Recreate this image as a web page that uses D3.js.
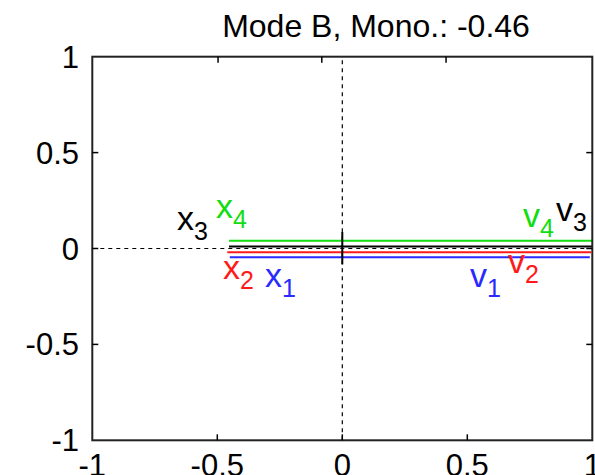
<!DOCTYPE html>
<html>
<head>
<meta charset="utf-8">
<script src="https://cdn.jsdelivr.net/npm/d3@7"></script>
<style>
  html, body { margin: 0; padding: 0; background: #fff; }
  svg { display: block; font-family: "Liberation Sans", Arial, sans-serif; }
</style>
</head>
<body>
<svg id="chart" width="595" height="475"></svg>
<script>
// ---- data ----
const title = "Mode B, Mono.: -0.46";
const xTicks = [-1, -0.5, 0, 0.5, 1];
const yTicks = [-1, -0.5, 0, 0.5, 1];
const topTicks = [-0.497, -0.082, 0.415];
const seriesIds = ["1", "2", "3", "4"];
const lineY = [-0.046, -0.020, 0.011, 0.041];
const lineXStart = [-0.450, -0.460, -0.453, -0.453];
const lineXEnd = [0.990, 0.995, 1.0, 1.0];
const xLabelX = [-0.309, -0.477, -0.661, -0.505];
const xLabelY = [-0.199, -0.159, 0.094, 0.157];
const vLabelX = [0.511, 0.663, 0.855, 0.723];
const vLabelY = [-0.199, -0.128, 0.145, 0.114];
const crossY = [-0.083, 0.086];

// ---- styles ----
const colors = ["#2a2aff", "#ff1a1a", "#000000", "#11dd11"];
const W = 595, H = 475;
const m = { left: 92.3, right: 592.3, top: 56.7, bottom: 440.3 };

const svg = d3.select("#chart");
const x = d3.scaleLinear().domain([-1, 1]).range([m.left, m.right]);
const y = d3.scaleLinear().domain([-1, 1]).range([m.bottom, m.top]);

// zero dashed lines
svg.append("line")
  .attr("x1", x(-1)).attr("x2", x(1)).attr("y1", y(0)).attr("y2", y(0))
  .attr("stroke", "#000").attr("stroke-width", 1.2).attr("stroke-dasharray", "4,4");
svg.append("line")
  .attr("x1", x(0)).attr("x2", x(0)).attr("y1", y(-1)).attr("y2", y(1))
  .attr("stroke", "#000").attr("stroke-width", 1.2).attr("stroke-dasharray", "4,4");

// series lines
const idx = d3.range(seriesIds.length);
svg.append("g").selectAll("line").data(idx).join("line")
  .attr("x1", i => x(lineXStart[i])).attr("x2", i => x(lineXEnd[i]))
  .attr("y1", i => y(lineY[i])).attr("y2", i => y(lineY[i]))
  .attr("stroke", i => colors[i]).attr("stroke-width", 2);

// cross at origin
svg.append("line")
  .attr("x1", x(0)).attr("x2", x(0)).attr("y1", y(crossY[0])).attr("y2", y(crossY[1]))
  .attr("stroke", "#000").attr("stroke-width", 2);

// frame
svg.append("rect")
  .attr("x", m.left).attr("y", m.top)
  .attr("width", m.right - m.left).attr("height", m.bottom - m.top)
  .attr("fill", "none").attr("stroke", "#222").attr("stroke-width", 2);

// ticks (inward)
const tl = 6;
const inner = xTicks.filter(t => t > -1 && t < 1);
svg.append("g").selectAll("line").data(inner).join("line")
  .attr("x1", d => x(d)).attr("x2", d => x(d))
  .attr("y1", m.bottom).attr("y2", m.bottom - tl)
  .attr("stroke", "#000").attr("stroke-width", 1.5);
svg.append("g").selectAll("line").data(topTicks).join("line")
  .attr("x1", d => x(d)).attr("x2", d => x(d))
  .attr("y1", m.top).attr("y2", m.top + tl)
  .attr("stroke", "#000").attr("stroke-width", 1.5);
const innerY = yTicks.filter(t => t > -1 && t < 1);
svg.append("g").selectAll("line").data(innerY).join("line")
  .attr("x1", m.left).attr("x2", m.left + tl)
  .attr("y1", d => y(d)).attr("y2", d => y(d))
  .attr("stroke", "#000").attr("stroke-width", 1.5);
svg.append("g").selectAll("line").data(innerY).join("line")
  .attr("x1", m.right).attr("x2", m.right - tl)
  .attr("y1", d => y(d)).attr("y2", d => y(d))
  .attr("stroke", "#000").attr("stroke-width", 1.5);

// tick labels
const fmt = d => d3.format("")(d).replace("−", "-");
svg.append("g").selectAll("text").data(xTicks).join("text")
  .attr("x", d => x(d)).attr("y", 476)
  .attr("text-anchor", "middle").attr("font-size", 31).attr("fill", "#000")
  .text(fmt);
svg.append("g").selectAll("text").data(yTicks).join("text")
  .attr("x", 79).attr("y", d => y(d) + 11)
  .attr("text-anchor", "end").attr("font-size", 31).attr("fill", "#000")
  .text(fmt);

// title
svg.append("text").attr("x", 376).attr("y", 37)
  .attr("text-anchor", "middle").attr("font-size", 32).attr("fill", "#000")
  .text(title);

// labels with subscripts
function addLabels(letter, lx, ly) {
  const g = svg.append("g");
  idx.forEach(i => {
    const t = g.append("text")
      .attr("x", x(lx[i])).attr("y", y(ly[i]))
      .attr("fill", colors[i]).attr("font-size", 34);
    t.append("tspan").text(letter);
    t.append("tspan").attr("font-size", 25).attr("dy", 10).text(seriesIds[i]);
  });
}
addLabels("x", xLabelX, xLabelY);
addLabels("v", vLabelX, vLabelY);
</script>
</body>
</html>
